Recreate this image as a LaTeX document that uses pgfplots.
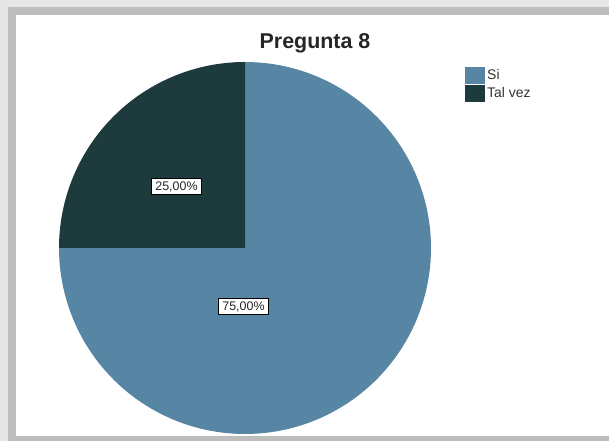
\documentclass[border=0pt]{standalone}
\usepackage{pgfplots}
\pgfplotsset{compat=1.18}
\usepackage{pgfplotstable}
\usepackage{fontspec}
\setmainfont{Liberation Sans}
\definecolor{siblue}{HTML}{5785A4}
\definecolor{talvez}{HTML}{1D3B3D}
\definecolor{bordlight}{HTML}{E6E6E6}
\definecolor{borddark}{HTML}{BDBDBD}
\pgfplotstableread{
label value
Si 75
{Tal vez} 25
}\piedata
\pgfplotstablegetelem{0}{value}\of\piedata \let\vsi\pgfplotsretval
\pgfplotstablegetelem{1}{value}\of\piedata \let\vtv\pgfplotsretval
\pgfmathsetmacro{\fsi}{\vsi/(\vsi+\vtv)}
\pgfmathsetmacro{\ftv}{\vtv/(\vsi+\vtv)}
\pgfmathsetmacro{\aSiEnd}{90-360*\fsi}
\pgfmathsetmacro{\aTvEnd}{\aSiEnd-360*\ftv}
\begin{document}
\begin{tikzpicture}
\begin{axis}[
  scale only axis, width=609bp, height=441bp,
  xmin=0, xmax=609, ymin=0, ymax=441,
  hide axis, clip=false,
  legend style={at={(axis cs:465,374)}, anchor=north west, draw=none, fill=none,
    font=\fontsize{14}{15}\selectfont, row sep=1bp, inner sep=0pt,
    text=black!80, cells={anchor=west}},
  legend image code/.code={\fill[#1] (0bp,-8.5bp) rectangle (20bp,8.5bp);},
]
% frame
\fill[bordlight] (axis cs:0,0) rectangle (axis cs:609,441);
\fill[borddark] (axis cs:8,0) rectangle (axis cs:609,434);
\fill[white] (axis cs:16,5) rectangle (axis cs:609,426);
% pie
\addplot[fill=siblue, draw=none, domain=\aSiEnd:90, samples=150, variable=\t]
  ({245+186*cos(\t)},{193+186*sin(\t)}) -- (axis cs:245,193) -- cycle;
\addlegendentry{Si}
\addplot[fill=talvez, draw=none, domain=\aTvEnd:\aSiEnd, samples=60, variable=\t]
  ({245+186*cos(\t)},{193+186*sin(\t)}) -- (axis cs:245,193) -- cycle;
\addlegendentry{Tal vez}
% labels
\node[draw=black, fill=white, inner xsep=3.5bp, inner ysep=3bp, line width=0.8bp,
  font=\fontsize{12.5}{13}\selectfont, text=black!85] at (axis cs:176.5,254.5) {25,00\%};
\node[draw=black, fill=white, inner xsep=3.5bp, inner ysep=3bp, line width=0.8bp,
  font=\fontsize{12.5}{13}\selectfont, text=black!85] at (axis cs:243.5,134.5) {75,00\%};
% title
\node[font=\bfseries\fontsize{21.5}{23}\selectfont, anchor=base, text=black!85]
  at (axis cs:315,392) {Pregunta 8};
\end{axis}
\end{tikzpicture}
\end{document}
